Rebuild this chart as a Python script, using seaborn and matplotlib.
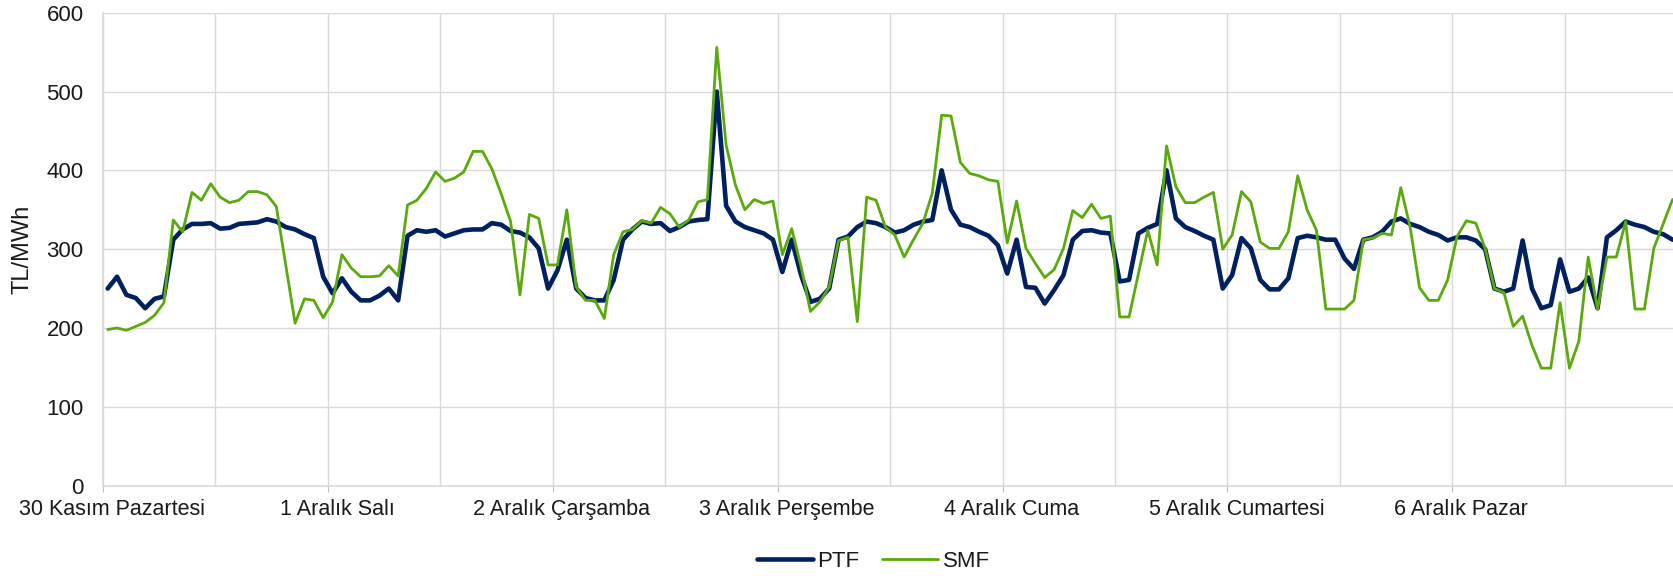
import numpy as np
import matplotlib
matplotlib.use("Agg")
import matplotlib.pyplot as plt
from matplotlib.transforms import ScaledTranslation
import seaborn as sns

# Day labels (one label every 24 hours)
days = ["30 Kasım Pazartesi", "1 Aralık Salı", "2 Aralık Çarşamba", "3 Aralık Perşembe",
        "4 Aralık Cuma", "5 Aralık Cumartesi", "6 Aralık Pazar"]

# Hourly PTF (TL/MWh)
ptf = [250, 265, 242, 238, 225, 237, 240, 312, 325, 332, 332, 333, 326, 327, 332, 333, 334, 338, 335, 328, 325, 319, 314, 265,
       244, 263, 246, 235, 235, 241, 250, 235, 317, 324, 322, 324, 316, 320, 324, 325, 325, 333, 331, 323, 321, 315, 301, 250,
       273, 312, 250, 238, 235, 235, 261, 312, 325, 335, 332, 333, 323, 328, 335, 337, 338, 500, 355, 335, 328, 324, 320, 312,
       271, 312, 267, 233, 237, 250, 312, 316, 328, 335, 333, 328, 321, 324, 331, 335, 337, 400, 350, 331, 328, 322, 317, 305,
       269, 312, 252, 251, 231, 248, 267, 312, 323, 324, 321, 320, 259, 261, 320, 327, 332, 400, 339, 328, 323, 317, 312, 250,
       267, 314, 301, 261, 249, 249, 263, 314, 317, 315, 312, 312, 288, 275, 312, 315, 322, 335, 339, 332, 328, 322, 318, 311,
       315, 315, 311, 300, 250, 246, 250, 311, 250, 225, 229, 287, 246, 250, 264, 225, 315, 324, 335, 331, 328, 322, 319, 312]

# Hourly SMF (TL/MWh)
smf = [198, 200, 197, 202, 207, 216, 232, 337, 322, 372, 362, 383, 366, 359, 362, 373, 373, 369, 354, 280, 206, 237, 235, 213,
       233, 293, 276, 265, 265, 266, 279, 266, 356, 362, 377, 398, 386, 390, 398, 424, 424, 402, 370, 335, 242, 344, 339, 280,
       280, 350, 252, 235, 235, 212, 293, 322, 325, 336, 333, 353, 345, 328, 337, 360, 363, 556, 432, 381, 350, 363, 358, 361,
       293, 326, 278, 221, 233, 252, 311, 315, 208, 366, 362, 328, 318, 290, 312, 333, 371, 470, 469, 410, 396, 393, 388, 386,
       308, 361, 301, 282, 264, 274, 301, 349, 340, 357, 339, 342, 214, 214, 269, 324, 280, 431, 379, 359, 359, 366, 372, 300,
       318, 373, 360, 309, 301, 301, 322, 393, 350, 324, 224, 224, 224, 235, 312, 314, 320, 318, 378, 328, 251, 235, 235, 261,
       316, 336, 333, 301, 250, 245, 202, 215, 178, 149, 149, 232, 149, 183, 290, 224, 290, 290, 335, 224, 224, 301, 332, 363]

navy = "#012060"
green = "#5BAA0C"
grid_col = "#D9D9D9"
text_col = "#1A1A1A"

sns.set_theme(style="whitegrid")
plt.rcParams['font.family'] = ['Liberation Sans', 'DejaVu Sans']
plt.rcParams['font.size'] = 16

hours = np.arange(len(ptf))

fig = plt.figure(figsize=(16.73, 5.76), dpi=100)
ax = fig.add_axes([103 / 1673, 90.4 / 576, 1 - 103 / 1673, (563.3 - 90.4) / 576])

sns.lineplot(x=hours, y=ptf, color=navy, linewidth=3.3, label="PTF", ax=ax)
sns.lineplot(x=hours, y=smf, color=green, linewidth=2.0, label="SMF", ax=ax)

ax.set_xlim(-0.5, 167.05)
ax.set_ylim(0, 600)
ax.set_yticks(np.arange(0, 601, 100))

# day boundaries get tick marks + labels, half-days only grid lines
ax.set_xticks(np.arange(0, 168, 24) - 0.5)
ax.set_xticklabels(days)
ax.set_xticks(np.arange(12, 168, 24) - 0.5, minor=True)

ax.grid(True, which="both", axis="x", color=grid_col, linewidth=1.0)
ax.grid(True, which="major", axis="y", color=grid_col, linewidth=1.0)
ax.tick_params(axis="x", which="major", direction="out", length=4, width=0.8,
               color="#BFBFBF", pad=6, labelsize=15.5, labelcolor=text_col, bottom=True)
ax.tick_params(axis="x", which="minor", length=0)
ax.tick_params(axis="y", length=0, pad=14, labelsize=16, labelcolor=text_col)

# nudge day labels right, after tick_params (which resets label transforms)
shift = ScaledTranslation(9 / 100, 0, fig.dpi_scale_trans)
for lab in ax.get_xticklabels():
    lab.set_transform(lab.get_transform() + shift)

for side in ["top", "right"]:
    ax.spines[side].set_visible(False)
for side in ["left", "bottom"]:
    ax.spines[side].set_color(grid_col)
    ax.spines[side].set_linewidth(1.2)

ax.set_xlabel("")
ax.set_ylabel("TL/MWh", fontsize=17, color=text_col)
ax.yaxis.set_label_coords(-0.044, 0.5)

ax.legend(loc="center", bbox_to_anchor=(0.522, 0.025), bbox_transform=fig.transFigure,
          ncol=2, frameon=False, fontsize=16, handlelength=2.5, handletextpad=0.2,
          columnspacing=1.05, labelcolor=text_col)

fig.savefig("out.png", dpi=100)
